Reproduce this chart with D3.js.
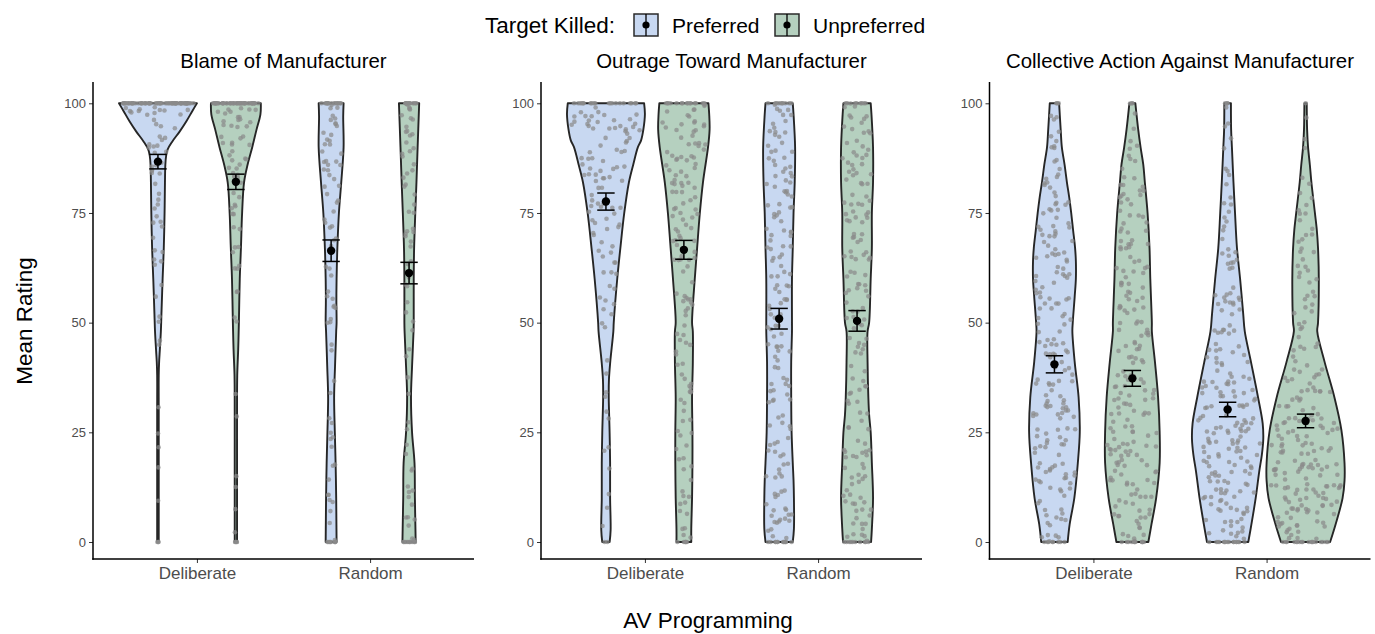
<!DOCTYPE html>
<html><head><meta charset="utf-8">
<script src="https://cdn.jsdelivr.net/npm/d3@7"></script>
<style>body{margin:0;background:#fff} text{font-family:"Liberation Sans",Arial,Helvetica,sans-serif}</style>
</head><body><svg id="c" width="1375" height="634"></svg>
<script>
// ---------- data ----------
const panelTitles = ["Blame of Manufacturer","Outrage Toward Manufacturer","Collective Action Against Manufacturer"];
const categories = ["Deliberate","Random"];
const targets = ["Preferred","Unpreferred"];
const yTicks = [0,25,50,75,100];
const legendTitle = "Target Killed:";
const xTitle = "AV Programming";
const yTitle = "Mean Rating";

// group order inside each panel: Deliberate-Preferred, Deliberate-Unpreferred, Random-Preferred, Random-Unpreferred
const meanBlame = [86.7,82.1,66.4,61.3];
const seBlame   = [1.65,1.75,2.45,2.45];
const meanOutrage = [77.6,66.6,50.9,50.4];
const seOutrage   = [1.95,2.15,2.35,2.35];
const meanAction = [40.5,37.3,30.2,27.6];
const seAction   = [1.95,1.8,1.65,1.55];

// violin outlines: [rating, relative half-width]
const violinBlame = [
  [[0,0.02],[10,0.02],[20,0.02],[30,0.02],[38,0.02],[41,0.03],[44,0.05],[48,0.075],[52,0.09],[60,0.12],[67,0.15],[75,0.17],[82,0.18],[86,0.19],[88,0.21],[89.5,0.25],[91.3,0.37],[93.6,0.56],[95.9,0.73],[98.2,0.88],[100,1.0]],
  [[0,0.03],[10,0.03],[20,0.03],[30,0.03],[38,0.035],[44,0.06],[50,0.077],[60,0.1],[67,0.13],[75,0.16],[82,0.21],[86,0.3],[90,0.42],[94,0.53],[97.5,0.63],[100,0.64]],
  [[0,0.14],[5,0.135],[10,0.13],[18,0.115],[25,0.095],[33,0.077],[40,0.1],[48,0.13],[50,0.14],[55,0.135],[60,0.14],[67,0.16],[75,0.2],[82,0.26],[90,0.32],[97,0.31],[100,0.32]],
  [[0,0.17],[5,0.16],[10,0.15],[18,0.14],[25,0.077],[33,0.05],[40,0.077],[48,0.115],[50,0.12],[60,0.12],[67,0.13],[75,0.16],[82,0.19],[90,0.22],[100,0.26]]
];
const violinOutrage = [
  [[0,0.095],[2.7,0.12],[10,0.107],[18,0.107],[25,0.094],[33,0.072],[37,0.077],[41,0.11],[48,0.19],[50,0.2],[60,0.29],[67,0.37],[75,0.47],[82,0.59],[86,0.7],[90,0.82],[91.5,0.9],[94,0.96],[97.5,1.0],[100,0.98]],
  [[0,0.19],[3,0.19],[10,0.21],[18,0.22],[25,0.22],[33,0.21],[41,0.23],[48,0.23],[50,0.21],[60,0.28],[67,0.34],[75,0.41],[82,0.49],[90,0.62],[94,0.66],[97.5,0.65],[100,0.63]],
  [[0,0.35],[3,0.38],[10,0.38],[14,0.37],[18,0.35],[25,0.32],[33,0.31],[41,0.31],[48,0.33],[50,0.33],[60,0.33],[67,0.35],[75,0.37],[82,0.4],[90,0.41],[97.5,0.37],[100,0.35]],
  [[0,0.36],[3,0.38],[10,0.41],[18,0.38],[25,0.35],[29,0.31],[33,0.29],[41,0.27],[48,0.27],[50,0.31],[60,0.35],[67,0.38],[75,0.38],[82,0.41],[90,0.41],[97.5,0.37],[100,0.35]]
];
const violinAction = [
  [[0,0.34],[4,0.39],[10,0.51],[18,0.6],[25,0.65],[33,0.62],[41,0.52],[48,0.46],[50,0.47],[56,0.52],[60,0.55],[64,0.55],[67,0.53],[71,0.48],[75,0.43],[78.5,0.38],[82,0.32],[86,0.26],[90,0.19],[94,0.16],[100,0.12]],
  [[0,0.41],[4,0.49],[10,0.61],[18,0.7],[25,0.7],[33,0.66],[41,0.58],[48,0.5],[50,0.5],[60,0.46],[67,0.44],[75,0.39],[82,0.32],[86,0.28],[90,0.21],[94,0.15],[100,0.077]],
  [[0,0.53],[4,0.61],[10,0.72],[16,0.81],[20,0.88],[23.5,0.915],[27,0.9],[33,0.78],[41,0.6],[48,0.44],[52,0.4],[60,0.32],[67,0.24],[75,0.19],[82,0.15],[90,0.11],[94,0.09],[100,0.085]],
  [[0,0.63],[4,0.77],[10,0.95],[14,1.0],[18,1.0],[25.5,0.92],[33,0.74],[41,0.49],[48,0.3],[50,0.32],[60,0.34],[67,0.32],[71,0.29],[75,0.24],[82,0.15],[86,0.11],[90,0.064],[94,0.04],[100,0.03]]
];

// individual ratings: count exactly at 0, count exactly at 100, and counts in 5-point bins 0-5 ... 95-100
const blameAtZero = [3,4,8,10];
const blameAtHundred = [70,45,15,12];
const blameBins = [
  [0,1,0,1,2,0,1,0,1,1,2,2,3,3,4,4,5,6,8,14],
  [1,1,1,1,0,1,1,0,0,0,2,2,3,3,4,5,6,8,10,14],
  [2,3,3,2,4,2,1,1,2,1,5,3,3,3,4,4,6,7,7,8],
  [3,4,4,2,2,2,1,1,2,1,3,2,3,3,4,4,5,5,6,7]
];
const outrageAtZero = [2,6,12,10];
const outrageAtHundred = [20,15,10,8];
const outrageBins = [
  [1,1,1,1,2,2,2,1,1,2,3,4,5,6,8,9,11,13,15,16],
  [4,4,4,4,4,4,5,5,5,5,6,6,7,8,9,9,11,12,12,12],
  [8,9,8,6,6,6,7,7,7,7,7,8,8,8,8,9,9,9,8,8],
  [9,9,9,8,7,6,6,5,6,6,7,8,8,8,9,9,9,9,8,8]
];
const actionAtZero = [8,10,15,18];
const actionAtHundred = [3,2,3,1];
const actionBins = [
  [7,9,11,12,12,13,12,11,10,9,9,10,11,11,10,9,7,5,4,3],
  [10,12,14,15,15,14,13,12,11,10,10,10,10,9,9,8,7,5,3,2],
  [13,15,17,19,20,19,17,14,12,9,8,7,6,5,4,4,3,2,2,2],
  [17,21,23,23,22,19,15,11,7,5,5,6,6,6,5,4,2,1,1,1]
];

// ---------- drawing ----------
const panelData = [
  {title:panelTitles[0], mean:meanBlame, se:seBlame, violin:violinBlame, zero:blameAtZero, hundred:blameAtHundred, bins:blameBins},
  {title:panelTitles[1], mean:meanOutrage, se:seOutrage, violin:violinOutrage, zero:outrageAtZero, hundred:outrageAtHundred, bins:outrageBins},
  {title:panelTitles[2], mean:meanAction, se:seAction, violin:violinAction, zero:actionAtZero, hundred:actionAtHundred, bins:actionBins}
];
const fills = {Preferred:"#c8d8f1", Unpreferred:"#b5d0bf"};
const svg = d3.select("#c");
const panelLeft = [93, 541, 989.5];
const panelW = 381;
const axisTop = 82, axisBottom = 559;
const y = d3.scaleLinear().domain([0,100]).range([542,103.3]);
const font = '"Liberation Sans",Arial,Helvetica,sans-serif';

// deterministic jitter (presentation only)
function hash(n){ const s = Math.sin(n*127.1 + 311.7)*43758.5453; return s - Math.floor(s); }

function halfAt(prof, v){
  for(let i=1;i<prof.length;i++){
    if(v<=prof[i][0]){
      const a=prof[i-1], b=prof[i];
      const t=(v-a[0])/(b[0]-a[0]||1);
      return a[1]+(b[1]-a[1])*t;
    }
  }
  return prof[prof.length-1][1];
}

panelData.forEach((p, pi) => {
  const L = panelLeft[pi];
  const xu = d3.scaleLinear().domain([0.4,2.6]).range([L, L+panelW]);
  const xCat = d3.scalePoint().domain(categories).range([xu(1), xu(2)]);
  const dodge = d3.scalePoint().domain(targets).range([-0.225,0.225]);
  const pxPerUnit = panelW/2.2;
  const maxHalf = 0.225*pxPerUnit;
  const g = svg.append("g");

  g.append("text").attr("x", L+panelW/2).attr("y", 68).attr("text-anchor","middle")
    .attr("font-size",20.4).attr("fill","#000").text(p.title);

  const groupsList = [];
  categories.forEach((c,ci)=>targets.forEach((t,ti)=>groupsList.push({c,t,idx:ci*2+ti})));

  groupsList.forEach(gr => {
    const cx = xCat(gr.c) + dodge(gr.t)*pxPerUnit;
    const prof = p.violin[gr.idx];
    const area = d3.area().curve(d3.curveCatmullRom.alpha(0.5))
      .y(d=>y(d[0])).x0(d=>cx-d[1]*maxHalf).x1(d=>cx+d[1]*maxHalf);
    g.append("path").attr("d", area(prof)).attr("fill", fills[gr.t])
      .attr("stroke","#262626").attr("stroke-width",1.9).attr("stroke-linejoin","round");
  });

  // points
  groupsList.forEach(gr => {
    const cx = xCat(gr.c) + dodge(gr.t)*pxPerUnit;
    const prof = p.violin[gr.idx];
    const base = (pi*4+gr.idx)*1000;
    const vals = [];
    for(let k=0;k<p.zero[gr.idx];k++) vals.push(0);
    p.bins[gr.idx].forEach((n,bi)=>{ for(let k=0;k<n;k++) vals.push(bi*5 + 5*hash(base+500+bi*40+k)); });
    for(let k=0;k<p.hundred[gr.idx];k++) vals.push(100);
    g.append("g").selectAll("circle").data(vals).join("circle")
      .attr("cx",(v,k)=>{ const u=hash(base+k)*2-1; return cx + u*0.92*halfAt(prof,v)*maxHalf; })
      .attr("cy",v=>y(v)).attr("r",2.3)
      .attr("fill","#8a8a8a").attr("fill-opacity",0.72);
  });

  // error bars + means
  groupsList.forEach(gr => {
    const cx = xCat(gr.c) + dodge(gr.t)*pxPerUnit;
    const m = p.mean[gr.idx], s = p.se[gr.idx];
    const eb = g.append("g").attr("stroke","#000").attr("stroke-width",1.5);
    eb.append("line").attr("x1",cx).attr("x2",cx).attr("y1",y(m-s)).attr("y2",y(m+s));
    eb.append("line").attr("x1",cx-8.7).attr("x2",cx+8.7).attr("y1",y(m-s)).attr("y2",y(m-s));
    eb.append("line").attr("x1",cx-8.7).attr("x2",cx+8.7).attr("y1",y(m+s)).attr("y2",y(m+s));
    g.append("circle").attr("cx",cx).attr("cy",y(m)).attr("r",4.2).attr("fill","#000");
  });

  // axes
  const ya = g.append("g").attr("transform",`translate(${L},0)`)
    .call(d3.axisLeft(y).tickValues(yTicks).tickSize(4).tickPadding(3));
  ya.select(".domain").remove();
  ya.selectAll("line").attr("stroke","#333").attr("stroke-width",1);
  ya.selectAll("text").attr("font-size",13).attr("fill","#4d4d4d").attr("font-family",font);
  const xa = g.append("g").attr("transform",`translate(0,${axisBottom})`)
    .call(d3.axisBottom(xCat).tickSize(4).tickPadding(4));
  xa.select(".domain").remove();
  xa.selectAll("line").attr("stroke","#333").attr("stroke-width",1);
  xa.selectAll("text").attr("font-size",17).attr("fill","#4d4d4d").attr("font-family",font);
  g.append("line").attr("x1",L).attr("x2",L).attr("y1",axisTop).attr("y2",axisBottom+0.75)
    .attr("stroke","#000").attr("stroke-width",1.5);
  g.append("line").attr("x1",L-0.75).attr("x2",L+panelW).attr("y1",axisBottom).attr("y2",axisBottom)
    .attr("stroke","#000").attr("stroke-width",1.5);
});

// axis titles
svg.append("text").attr("x",708).attr("y",628).attr("text-anchor","middle")
  .attr("font-size",22.5).attr("fill","#000").text(xTitle);
svg.append("text").attr("transform","translate(32,321) rotate(-90)").attr("text-anchor","middle")
  .attr("font-size",22.5).attr("fill","#000").text(yTitle);

// legend
const lg = svg.append("g");
lg.append("text").attr("x",485).attr("y",33).attr("font-size",22.5).attr("fill","#000").text(legendTitle);
const keyX = [634, 775], labX = [672, 813];
targets.forEach((t,i)=>{
  lg.append("rect").attr("x",keyX[i]).attr("y",14).attr("width",24).attr("height",22)
    .attr("fill",fills[t]).attr("stroke","#2a2a2a").attr("stroke-width",1.5);
  lg.append("line").attr("x1",keyX[i]+12).attr("x2",keyX[i]+12).attr("y1",14).attr("y2",36)
    .attr("stroke","#000").attr("stroke-width",1.3);
  lg.append("circle").attr("cx",keyX[i]+12).attr("cy",25).attr("r",3.6).attr("fill","#000");
  lg.append("text").attr("x",labX[i]).attr("y",33).attr("font-size",21).attr("fill","#000").text(t);
});
</script></body></html>
